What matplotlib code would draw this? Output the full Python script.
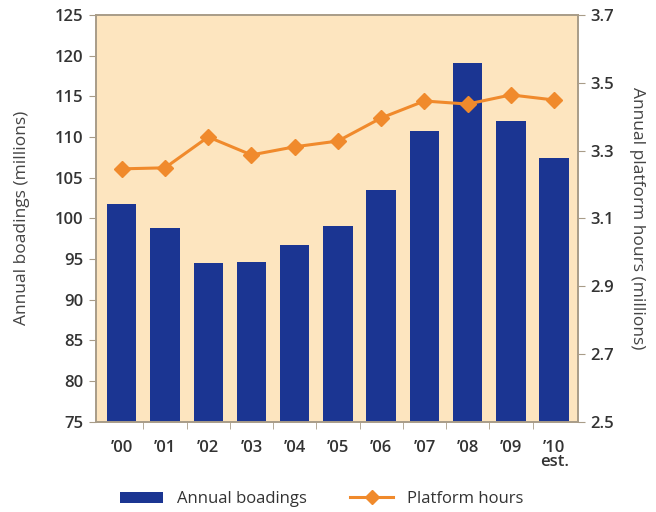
import numpy as np
import matplotlib.pyplot as plt
from matplotlib.patches import Patch
from matplotlib.lines import Line2D

plt.rcParams['font.family'] = ['Open Sans', 'DejaVu Sans']

years = ["\u201900", "\u201901", "\u201902", "\u201903", "\u201904", "\u201905",
         "\u201906", "\u201907", "\u201908", "\u201909", "\u201910\nest."]
boardings = [101.8, 98.8, 94.5, 94.6, 96.7, 99.1, 103.5, 110.7, 119.1, 111.9, 107.4]
platform_hours = [3.246, 3.249, 3.34, 3.287, 3.311, 3.328, 3.396, 3.446, 3.437, 3.464, 3.449]

blue = "#1b3592"
orange = "#f08a2c"
bg = "#fde5bf"
spine_col = "#a89c88"
txt = "#333333"

fig = plt.figure(figsize=(6.56, 5.12), dpi=100)
ax = fig.add_axes([0.146, 0.176, 0.735, 0.795])
ax.set_facecolor(bg)

x = np.arange(len(years))
ax.bar(x, boardings, width=0.68, color=blue, bottom=0)
ax.set_ylim(75, 125)
ax.set_xlim(-0.6, len(years) - 0.45)
ax.set_yticks(np.arange(75, 126, 5))
ax.set_xticks(x)
ax.set_xticklabels(years, fontsize=12, color=txt, fontweight='semibold', linespacing=0.85)
ax.set_xticks(np.arange(len(years) - 1) + 0.5, minor=True)
ax.tick_params(axis='x', which='major', length=0, pad=13)
ax.tick_params(axis='x', which='minor', length=5, color=spine_col, direction='out')
ax.tick_params(axis='y', length=5, color=spine_col, labelsize=12, labelcolor=txt, pad=4)
for lab in ax.get_yticklabels():
    lab.set_fontweight('semibold')
ax.set_ylabel("Annual boadings (millions)", fontsize=12.5, color="#444444", labelpad=18)

ax2 = ax.twinx()
ax2.plot(x, platform_hours, color=orange, lw=2.2, marker='D', markersize=8)
ax2.set_ylim(2.5, 3.7)
ax2.set_yticks([2.5, 2.7, 2.9, 3.1, 3.3, 3.5, 3.7])
ax2.set_yticklabels(["2.5", "2.7", "2.9", "3.1", "3.3", "3.5", "3.7"])
ax2.tick_params(axis='y', length=5, color=spine_col, labelsize=12, labelcolor=txt, pad=4)
for lab in ax2.get_yticklabels():
    lab.set_fontweight('semibold')
ax2.set_ylabel("Annual platform hours (millions)", fontsize=12.5, color="#444444",
               rotation=270, labelpad=22)

for a in (ax, ax2):
    for s in a.spines.values():
        s.set_color(spine_col)
        s.set_linewidth(1.2)

handles = [Patch(facecolor=blue, label="Annual boadings"),
           Line2D([], [], color=orange, lw=2.2, marker='D', markersize=7, label="Platform hours")]
fig.legend(handles=handles, loc='lower center', bbox_to_anchor=(0.49, -0.02), ncol=2,
           frameon=False, fontsize=12, handlelength=2.6, columnspacing=2.6,
           labelcolor="#333333")

fig.savefig("out.png", dpi=100, facecolor="white")
